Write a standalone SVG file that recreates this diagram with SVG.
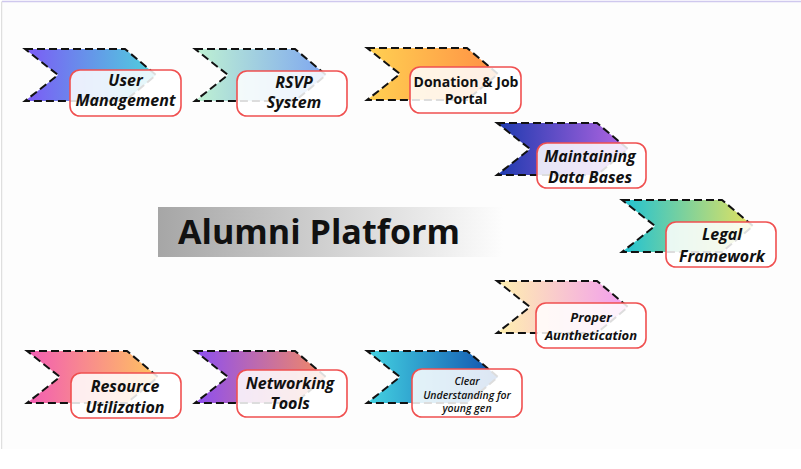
<svg xmlns="http://www.w3.org/2000/svg" width="801" height="469" viewBox="0 0 801 469">
<style>
.chev{stroke:#111;stroke-width:2;stroke-dasharray:8 4}
.box{fill:#fff;fill-opacity:0.86;stroke:#f05050;stroke-width:1.6}
.lbl{font-family:"Open Sans","Liberation Sans",sans-serif;font-weight:700;font-style:italic;font-size:16px;fill:#111;text-anchor:middle}
.sm{font-size:13px}
.xs{font-size:10.5px;font-weight:600}
.up{font-style:normal;font-size:14px}
.title{font-family:"Open Sans","Liberation Sans",sans-serif;font-weight:700;font-size:34px;fill:#111}
</style>
<defs>
<path id="chv" d="M0,0 H100 L131,26 L100,52 H0 L33,26 Z"/>
<linearGradient id="g1"><stop offset="0" stop-color="#7c5af6"/><stop offset="1" stop-color="#4ed2dc"/></linearGradient>
<linearGradient id="g2"><stop offset="0" stop-color="#bff2d2"/><stop offset="1" stop-color="#7ea6f0"/></linearGradient>
<linearGradient id="g3"><stop offset="0" stop-color="#ffd152"/><stop offset="1" stop-color="#ff8f44"/></linearGradient>
<linearGradient id="g4"><stop offset="0" stop-color="#1d3aaf"/><stop offset="1" stop-color="#b465e2"/></linearGradient>
<linearGradient id="g5"><stop offset="0" stop-color="#1ec2d4"/><stop offset="1" stop-color="#e6e25e"/></linearGradient>
<linearGradient id="g6"><stop offset="0" stop-color="#fff1ae"/><stop offset="1" stop-color="#f29cf0"/></linearGradient>
<linearGradient id="g7"><stop offset="0" stop-color="#f25cb4"/><stop offset="1" stop-color="#ffc45e"/></linearGradient>
<linearGradient id="g8"><stop offset="0" stop-color="#8c4ef2"/><stop offset="1" stop-color="#f48a62"/></linearGradient>
<linearGradient id="g9"><stop offset="0" stop-color="#44d4e2"/><stop offset="1" stop-color="#0f4fae"/></linearGradient>
<linearGradient id="gt"><stop offset="0" stop-color="#a6a6a6"/><stop offset="0.55" stop-color="#d6d6d6"/><stop offset="1" stop-color="#fdfdfd"/></linearGradient>
</defs>
<rect x="0" y="0" width="801" height="469" fill="#fff"/>
<rect x="2" y="2" width="799" height="447" fill="#fdfdfd"/>
<line x1="2" y1="1.5" x2="801" y2="1.5" stroke="#cfc8ee" stroke-width="1.5"/>
<line x1="1.7" y1="1.5" x2="1.7" y2="449" stroke="#d8d8d8" stroke-width="1"/>

<g id="title">
<rect x="158" y="207" width="345" height="50" fill="url(#gt)"/>
<text class="title" x="178" y="244" textLength="282" lengthAdjust="spacingAndGlyphs">Alumni Platform</text>
</g>

<g id="connectors"></g>

<g id="user-management">
<use href="#chv" x="25" y="49" fill="url(#g1)" class="chev"/>
<rect class="box" x="70" y="70" width="111" height="46" rx="10"/>
<text class="lbl" x="125.5" y="86">User</text>
<text class="lbl" x="125.5" y="106">Management</text>
</g>
<g id="rsvp-system">
<use href="#chv" x="195" y="49" fill="url(#g2)" class="chev"/>
<rect class="box" x="237" y="71" width="110" height="45" rx="10"/>
<text class="lbl" x="294" y="88">RSVP</text>
<text class="lbl" x="294" y="108">System</text>
</g>
<g id="donation-job-portal">
<use href="#chv" x="367" y="48" fill="url(#g3)" class="chev"/>
<rect class="box" x="410" y="67" width="111" height="46" rx="10"/>
<text class="lbl up" x="466" y="86.5">Donation &amp; Job</text>
<text class="lbl up" x="466" y="104">Portal</text>
</g>
<g id="maintaining-data-bases">
<use href="#chv" x="497" y="123" fill="url(#g4)" class="chev"/>
<rect class="box" x="537" y="143" width="109" height="45" rx="10"/>
<text class="lbl" x="590" y="161.5">Maintaining</text>
<text class="lbl" x="590" y="182.5">Data Bases</text>
</g>
<g id="legal-framework">
<use href="#chv" x="622" y="200" fill="url(#g5)" class="chev"/>
<rect class="box" x="666" y="222" width="110" height="45" rx="10"/>
<text class="lbl" x="722" y="239.5">Legal</text>
<text class="lbl" x="722" y="261.5">Framework</text>
</g>
<g id="proper-authentication">
<use href="#chv" x="497" y="281" fill="url(#g6)" class="chev"/>
<rect class="box" x="536" y="303" width="110" height="45" rx="10"/>
<text class="lbl sm" x="591" y="322">Proper</text>
<text class="lbl sm" x="591" y="339.5">Aunthetication</text>
</g>
<g id="resource-utilization">
<use href="#chv" x="27" y="351" fill="url(#g7)" class="chev"/>
<rect class="box" x="71" y="373" width="110" height="45" rx="10"/>
<text class="lbl" x="125" y="391.5">Resource</text>
<text class="lbl" x="125" y="413">Utilization</text>
</g>
<g id="networking-tools">
<use href="#chv" x="195" y="351" fill="url(#g8)" class="chev"/>
<rect class="box" x="237" y="370" width="110" height="47" rx="10"/>
<text class="lbl" x="290" y="389">Networking</text>
<text class="lbl" x="290" y="409">Tools</text>
</g>
<g id="clear-understanding">
<use href="#chv" x="367" y="351" fill="url(#g9)" class="chev"/>
<rect class="box" x="412" y="369" width="110" height="48" rx="10"/>
<text class="lbl xs" x="467" y="385">Clear</text>
<text class="lbl xs" x="467" y="399">Understanding for</text>
<text class="lbl xs" x="467" y="412">young gen</text>
</g>
</svg>
